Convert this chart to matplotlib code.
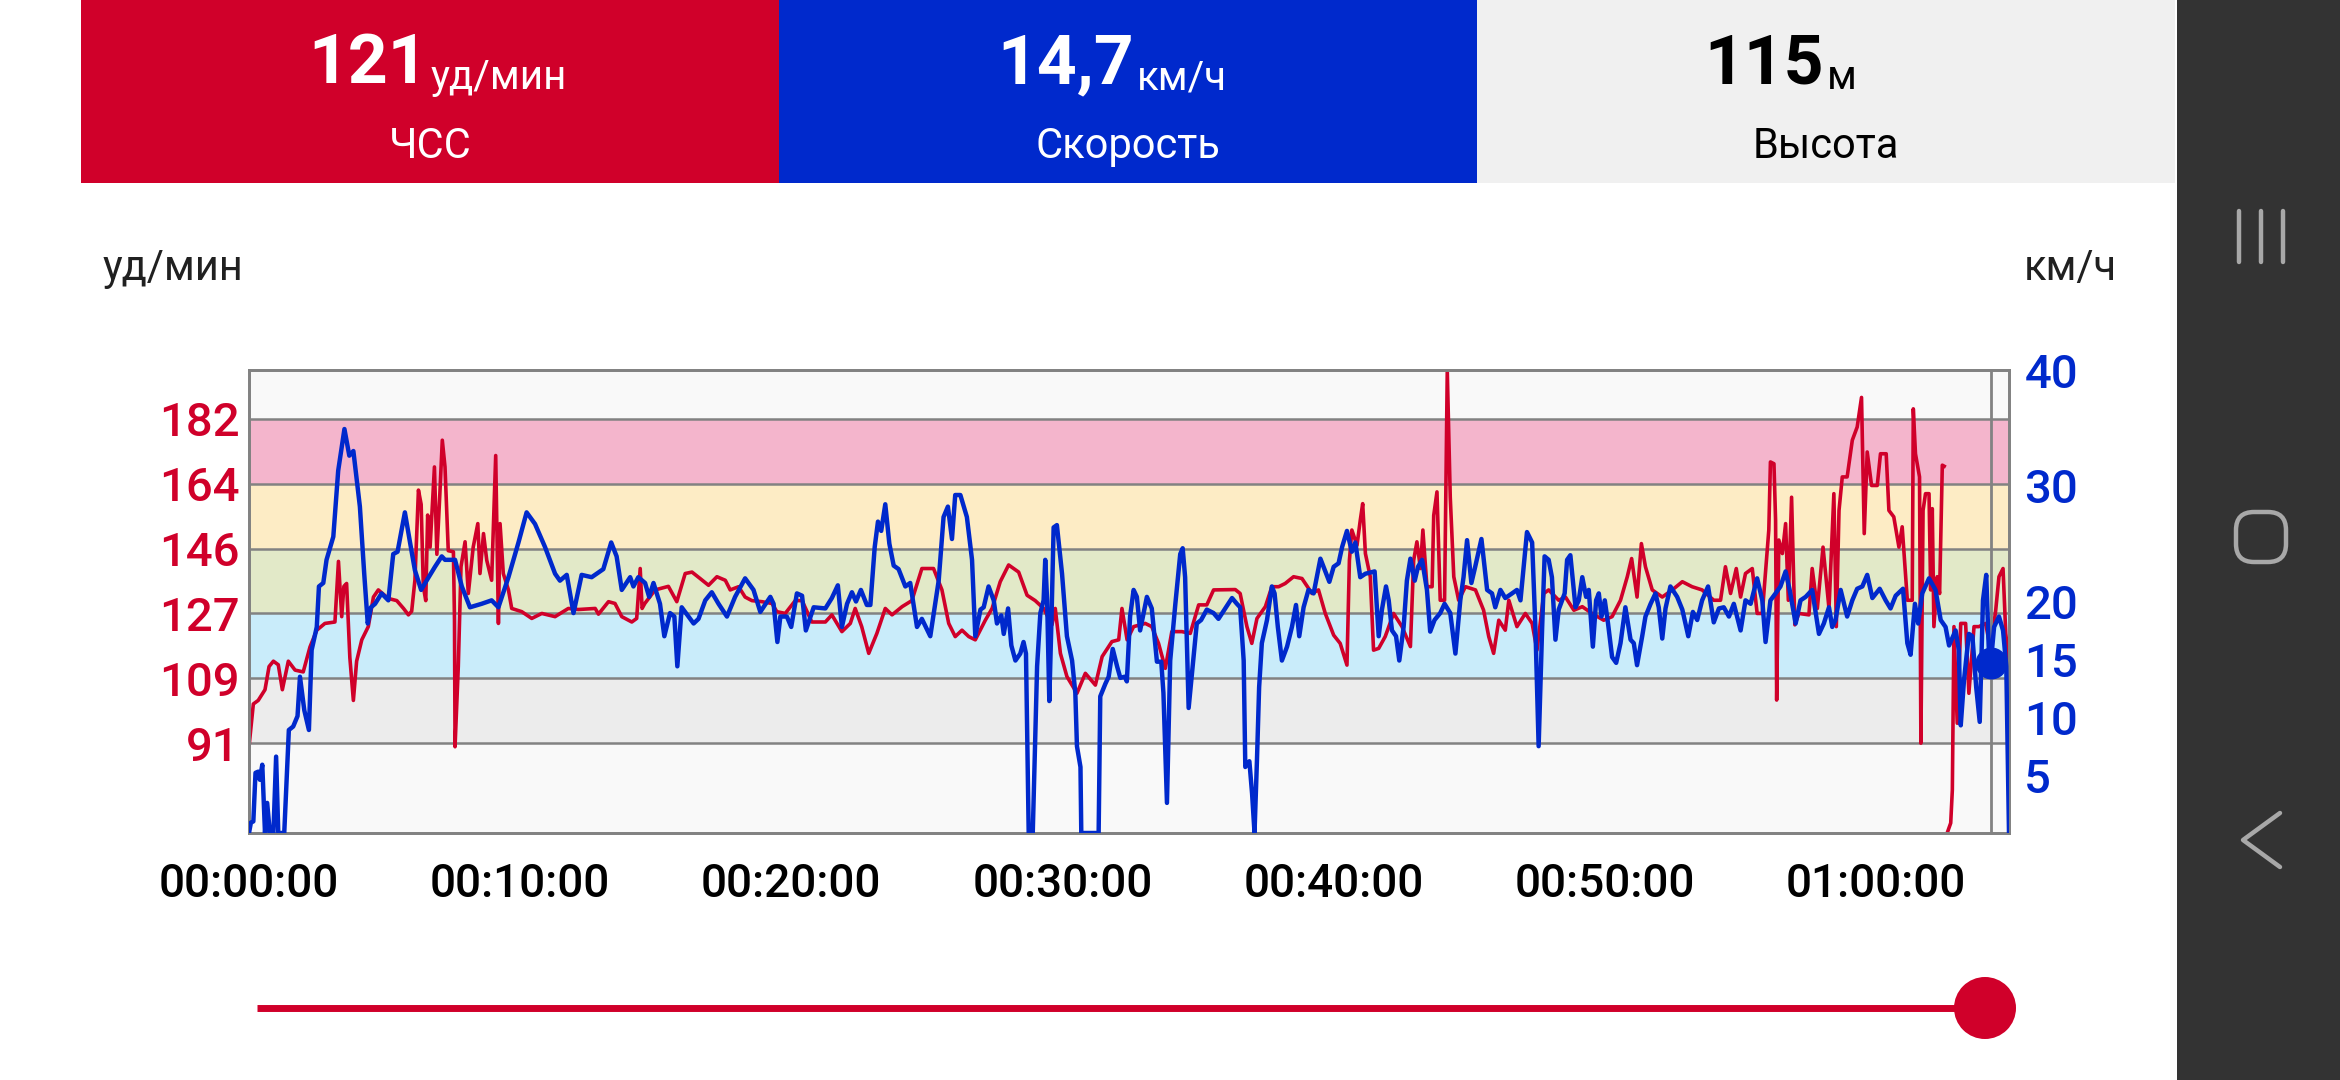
"""Heart rate and speed over a workout, redrawn from a phone screenshot."""

import numpy
from matplotlib import pyplot
from matplotlib.patches import Rectangle, Circle, FancyBboxPatch

# Heart rate (bpm) against time (min).
hr_min = [
    0, 0.16, 0.34, 0.59, 0.74, 0.9, 1.08, 1.23, 1.45, 1.7, 2.0, 2.25, 2.5,
    2.8, 3.17, 3.3, 3.42, 3.5, 3.6, 3.72, 3.85, 3.97, 4.16, 4.4, 4.59, 4.77,
    5.14, 5.45, 5.7, 5.88, 6.0, 6.12, 6.25, 6.35, 6.43, 6.52, 6.59, 6.68,
    6.84, 6.93, 7.04, 7.13, 7.23, 7.35, 7.54, 7.58, 7.6, 7.72, 7.82, 7.97,
    8.09, 8.27, 8.44, 8.52, 8.65, 8.77, 8.95, 9.1, 9.2, 9.26, 9.38, 9.57,
    9.69, 10.06, 10.43, 10.8, 11.29, 11.78, 12.15, 12.77, 12.89, 13.26, 13.5,
    13.75, 14.12, 14.3, 14.43, 14.5, 14.6, 14.98, 15.47, 15.78, 16.09, 16.34,
    16.64, 16.95, 17.26, 17.57, 17.75, 18.06, 18.3, 18.55, 18.92, 19.29,
    19.47, 19.78, 20.15, 20.4, 20.76, 21.26, 21.5, 21.87, 22.18, 22.36, 22.6,
    22.86, 23.16, 23.47, 23.72, 24.09, 24.45, 24.82, 25.25, 25.56, 25.81,
    26.05, 26.3, 26.55, 26.79, 27.16, 27.41, 27.71, 28.02, 28.39, 28.7, 29.0,
    29.31, 29.62, 29.74, 29.93, 30.17, 30.54, 30.85, 31.22, 31.47, 31.83,
    32.08, 32.2, 32.39, 32.63, 33.06, 33.3, 33.55, 33.8, 34.04, 34.41, 34.72,
    35.03, 35.33, 35.58, 36.38, 36.56, 36.81, 36.99, 37.18, 37.49, 37.73,
    37.98, 38.22, 38.53, 38.84, 39.21, 39.45, 39.7, 40.01, 40.25, 40.5,
    40.59, 40.68, 40.87, 40.99, 41.08, 41.18, 41.36, 41.48, 41.67, 41.91,
    42.22, 42.53, 42.84, 42.96, 43.08, 43.21, 43.3, 43.45, 43.64, 43.7,
    43.82, 43.94, 44.1, 44.2, 44.31, 44.44, 44.62, 44.87, 45.24, 45.54,
    45.73, 45.91, 46.1, 46.34, 46.47, 46.77, 47.08, 47.33, 47.51, 47.76,
    47.94, 48.31, 48.56, 48.87, 49.18, 49.54, 49.97, 50.28, 50.59, 50.84,
    51.0, 51.2, 51.36, 51.51, 51.76, 52.13, 52.5, 52.87, 53.23, 53.6, 54.03,
    54.28, 54.46, 54.65, 54.86, 55.02, 55.2, 55.45, 55.63, 55.82, 56.06,
    56.12, 56.25, 56.31, 56.35, 56.43, 56.56, 56.68, 56.78, 56.9, 57.02,
    57.17, 57.54, 57.66, 57.85, 58.06, 58.28, 58.46, 58.55, 58.65, 58.77,
    58.95, 59.14, 59.32, 59.48, 59.58, 59.69, 59.85, 60.06, 60.18, 60.39,
    60.49, 60.67, 60.86, 60.98, 61.17, 61.35, 61.39, 61.47, 61.62, 61.67,
    61.75, 61.84, 61.97, 62.03, 62.09, 62.15, 62.27, 62.36, 62.46, 62.53,
    62.58, 62.64, 62.77, 62.83, 62.89, 63.01, 63.14, 63.32, 63.44, 63.63,
    63.81, 64.06, 64.24, 64.43, 64.55, 64.7, 64.8, 64.92,
]
hr_bpm = [
    90, 102, 103, 106, 112.5, 114, 113, 106, 114, 111.5, 111, 118, 122.7,
    124.6, 125, 142, 126.5, 135, 135.8, 115, 103, 114, 120, 123.7, 132, 134,
    131.6, 131, 128.8, 127, 128, 136.7, 162, 158, 135, 131, 155, 146,
    168.5, 144, 161, 176, 168.5, 145, 144.7, 125.5, 90, 112.5, 140.5, 147.5,
    133, 146, 152.6, 138.6, 149.8, 142.3, 136.7, 171.7, 124.6, 152.6, 138.6,
    134, 128.8, 127.9, 126, 127.4, 126.5, 128.8, 128.5, 128.8, 127.2, 130.7,
    130.2, 126.5, 125, 126, 140, 128.8, 130.2, 134, 135, 130.7, 138.6, 139,
    137.2, 135.3, 137.7, 136.7, 134, 134.9, 132, 131, 130.7, 130.2, 127.9,
    127.4, 131, 131, 125, 125, 127, 122.3, 124.6, 128.8, 123.7, 116.2,
    121.8, 128.8, 127, 129.3, 131, 140, 140, 134, 124.6, 120.9, 122.7, 120.9,
    120, 125.5, 128.8, 136.3, 141, 139, 132.5, 131, 128.8, 124.2, 128.8,
    116.2, 109.7, 105, 110.6, 107.3, 115.3, 119.5, 120, 128.8, 120, 123.7,
    124.6, 123.7, 119, 112, 122.3, 122.3, 121.8, 129.8, 129.8, 134, 134.1,
    133, 123.7, 119, 126, 129.3, 134.9, 134.9, 135.8, 137.7, 137.2, 133, 134,
    127.4, 121.3, 119, 112.9, 142.3, 150.8, 146.5, 153.5, 158.2, 144.2,
    137.7, 117.1, 117.6, 120.9, 127.4, 123.7, 118.1, 142.3, 147.5, 140,
    150.8, 134.9, 134.9, 154.9, 161.5, 131.1, 131.1, 195.5, 160, 137.7,
    131.1, 134.9, 134, 128.3, 120.9, 116.2, 125.5, 122.7, 131.1, 123.7,
    127.4, 124.6, 117.1, 133, 134, 131.1, 132, 128.3, 129.3, 127.4, 125.5,
    126.5, 131.1, 137.7, 142.8, 132, 147, 140.5, 134, 132, 134, 136.3, 134.9,
    134, 131.1, 131.1, 140.5, 133, 140, 132, 138.6, 140, 127.4, 127.4, 150.8,
    169.9, 169.4, 153.5, 103.1, 148, 144.2, 152.6, 131.1, 160, 124.2, 127.4,
    127, 140, 128.8, 146, 128.8, 161, 123.7, 156.3, 165.7, 165.7, 176, 179.7,
    188, 149.8, 172.7, 163.3, 163.3, 172.2, 172.2, 156.3, 154.5, 146, 151.7,
    131.1, 131.1, 184.8, 172.2, 165.7, 91, 156.3, 161, 161, 134, 156.8,
    123.7, 137.7, 133, 169, 168.7, numpy.nan, 65.8, 68.6, 77.9, 123.7, 96.6,
    124.6, 124.6, 105, 123.7, 123.7, 124.6, 117.1, 128.3, 137.7, 140, 121.8,
    113.4,
]

# Speed (km/h) against time (min).
speed_min = [
    0, 0.07, 0.16, 0.24, 0.34, 0.4, 0.49, 0.59, 0.67, 0.77, 0.9, 1.0, 1.08,
    1.3, 1.47, 1.63, 1.79, 1.88, 2.04, 2.21, 2.31, 2.5, 2.58, 2.74, 2.86,
    3.11, 3.29, 3.52, 3.7, 3.85, 4.09, 4.25, 4.38, 4.5, 4.65, 4.89, 5.14,
    5.32, 5.48, 5.75, 5.94, 6.12, 6.35, 6.55, 6.86, 7.11, 7.23, 7.6, 7.85,
    8.15, 8.58, 8.95, 9.2, 9.57, 9.94, 10.24, 10.55, 10.92, 11.29, 11.47,
    11.72, 11.97, 12.27, 12.64, 13.07, 13.36, 13.56, 13.75, 14.06, 14.18,
    14.36, 14.61, 14.76, 14.92, 15.16, 15.32, 15.53, 15.69, 15.8, 15.96,
    16.21, 16.4, 16.58, 16.83, 17.07, 17.32, 17.63, 17.93, 18.3, 18.61,
    18.86, 19.23, 19.35, 19.49, 19.6, 19.84, 20.0, 20.21, 20.4, 20.54, 20.83,
    21.26, 21.5, 21.72, 21.87, 22.06, 22.24, 22.39, 22.57, 22.79, 22.92,
    23.08, 23.2, 23.32, 23.47, 23.62, 23.78, 23.96, 24.21, 24.39, 24.64,
    24.82, 25.13, 25.44, 25.62, 25.78, 25.93, 26.05, 26.24, 26.48, 26.67,
    26.79, 26.98, 27.1, 27.28, 27.47, 27.59, 27.75, 27.84, 28.0, 28.12,
    28.27, 28.45, 28.57, 28.66, 28.76, 28.91, 29.07, 29.19, 29.31, 29.37,
    29.44, 29.52, 29.6, 29.68, 29.8, 29.99, 30.17, 30.36, 30.48, 30.54,
    30.67, 30.7, 31.34, 31.4, 31.59, 31.71, 31.86, 32.02, 32.14, 32.3, 32.38,
    32.5, 32.63, 32.75, 32.87, 33.12, 33.3, 33.49, 33.65, 33.73, 33.86,
    33.98, 34.17, 34.35, 34.44, 34.53, 34.66, 34.84, 34.96, 35.12, 35.33,
    35.58, 35.76, 36.01, 36.26, 36.44, 36.56, 36.69, 36.75, 36.9, 37.0,
    37.09, 37.18, 37.26, 37.36, 37.55, 37.73, 37.83, 37.95, 38.1, 38.29,
    38.47, 38.62, 38.74, 38.9, 39.08, 39.27, 39.52, 39.7, 39.85, 40.01,
    40.19, 40.32, 40.5, 40.68, 40.81, 40.99, 41.18, 41.52, 41.67, 41.79,
    41.94, 42.04, 42.16, 42.31, 42.43, 42.59, 42.71, 42.84, 43.0, 43.12,
    43.27, 43.45, 43.57, 43.73, 43.94, 44.1, 44.31, 44.5, 44.68, 44.8,
    44.93, 45.09, 45.23, 45.46, 45.67, 45.85, 45.97, 46.16, 46.34, 46.59,
    46.77, 46.9, 47.14, 47.33, 47.45, 47.57, 47.7, 47.79, 47.94, 48.06,
    48.19, 48.31, 48.53, 48.62, 48.74, 48.93, 49.05, 49.18, 49.32, 49.42,
    49.57, 49.69, 49.79, 49.89, 50.01, 50.13, 50.28, 50.43, 50.59, 50.77,
    50.96, 51.08, 51.2, 51.39, 51.51, 51.7, 51.88, 52.0, 52.13, 52.25,
    52.43, 52.68, 52.87, 53.09, 53.26, 53.42, 53.6, 53.82, 54.03, 54.22,
    54.4, 54.59, 54.77, 55.02, 55.2, 55.39, 55.63, 55.82, 55.94, 56.12,
    56.31, 56.49, 56.68, 56.83, 57.05, 57.23, 57.42, 57.66, 57.91, 58.09,
    58.28, 58.4, 58.52, 58.71, 58.95, 59.14, 59.32, 59.51, 59.69, 59.88,
    60.15, 60.37, 60.55, 60.74, 61.01, 61.17, 61.29, 61.45, 61.57, 61.72,
    61.97, 62.21, 62.4, 62.58, 62.71, 62.95, 63.07, 63.14, 63.26, 63.44,
    63.57, 63.71, 63.84, 63.96, 64.08, 64.18, 64.25, 64.37, 64.55, 64.7,
    64.82, 64.92,
]
speed_kmh = [
    0, 0.9, 1.0, 5.2, 5.3, 4.6, 5.9, 0, 2.6, 0, 0, 6.6, 0, 0, 8.9, 9.2,
    10.1, 13.5, 10.6, 8.9, 15.8, 17.8, 21.3, 21.6, 23.6, 25.6, 31.3, 34.9,
    32.6, 33, 28.2, 22.4, 18.1, 19.5, 19.8, 20.7, 20.1, 24.1, 24.3, 27.7,
    25.1, 22.7, 21, 21.8, 23, 23.9, 23.6, 23.6, 21.3, 19.5, 19.8, 20.1, 19.5,
    22.1, 25.1, 27.7, 26.7, 24.7, 22.4, 21.8, 22.3, 19, 22.3, 22.1, 22.8,
    25.1, 23.9, 21, 22.1, 21.3, 22.1, 21.6, 20.4, 21.6, 19.8, 17, 19, 18.7,
    14.4, 19.5, 18.7, 18.1, 18.5, 20.1, 20.8, 19.8, 18.7, 20.4, 22, 21, 19.1,
    20.4, 19.8, 16.5, 18.7, 18.7, 17.8, 20.7, 20.5, 17.5, 19.5, 19.4, 20.3,
    21.4, 17.8, 19.8, 20.8, 20, 21, 19.7, 19.7, 24.7, 26.9, 26.1, 28.4, 25,
    23.1, 22.8, 21.3, 21.6, 17.8, 18.5, 17, 21.8, 27.3, 28.2, 25.4, 29.2,
    29.2, 27.3, 23.6, 17, 19.3, 19.5, 21.3, 20.1, 18.1, 18.8, 17.2, 19.4,
    16.2, 14.9, 15.5, 16.5, 15.5, 0, 0, 14.4, 19, 20.1, 23.6, 20.1, 11.4,
    18.4, 26.4, 26.6, 22.4, 17, 14.9, 12.1, 7.5, 5.7, 0, 0, 11.8, 12.9, 13.5,
    15.9, 14.4, 13.4, 13.5, 13.1, 18.7, 21, 20.4, 17.5, 20.4, 19.4, 14.8,
    14.8, 12.1, 2.6, 14.9, 19.8, 24.1, 24.6, 22.1, 10.8, 15.2, 18.1, 18.4,
    19.3, 19, 18.5, 19.4, 20.3, 19.8, 19.5, 14.9, 5.7, 6.2, 3.4, 0, 6.3,
    12.6, 16.4, 18.4, 21.3, 20.7, 17.8, 14.9, 16.1, 17.8, 19.7, 17, 19.5, 21,
    20.7, 23.7, 22.6, 21.7, 23, 23.3, 24.7, 26.1, 24.3, 25.1, 22.1, 22.4,
    22.6, 17, 19.3, 21.3, 20.1, 17.5, 17, 14.9, 17.8, 21.8, 23.7, 21.8, 23,
    23.6, 21, 17.4, 18.4, 19, 19.8, 19, 15.5, 20.1, 22.1, 25.3, 21.6, 23,
    25.4, 21, 20.7, 19.5, 21, 20.3, 20.7, 21, 20.1, 26, 25.1, 17.8, 7.5,
    17.8, 23.9, 23.6, 22.1, 16.7, 19.3, 20.7, 23.6, 24, 19.5, 20.1, 22.1,
    20.4, 21, 16.1, 20.1, 20.7, 18.7, 20.1, 18.1, 15.2, 14.7, 16.4, 19.5,
    16.7, 16.4, 14.5, 17, 18.7, 19.8, 20.7, 19.5, 16.8, 19.4, 21.3, 20.4,
    19.3, 17, 19.1, 18.4, 20.1, 21.3, 18.2, 19.4, 19.5, 18.7, 19.8, 17.5,
    20.1, 19.8, 22, 20.1, 16.5, 20.1, 20.7, 21.3, 22.6, 21, 18.1, 20.1, 20.4,
    21, 17.2, 18.1, 19.5, 17.8, 18.4, 21, 18.7, 20.1, 21.1, 21.3, 22.3, 20.3,
    21.1, 20.1, 19.4, 20.5, 21.1, 16.4, 15.4, 19.8, 18.1, 20.7, 22, 21, 18.4,
    17.8, 16.2, 17.5, 15.8, 9.3, 13.2, 17.2, 17, 12.6, 9.6, 20.1, 22.3,
    15.5, 14.7, 17.8, 18.7, 17.5, 14.4, 0,
]

# Heart-rate zone bounds and the right-hand speed ticks.
zone_bounds = [91, 109.2, 127.4, 145.6, 163.8, 182]
zone_colors = ['#ececec', '#c9ecfa', '#e2e9c8', '#fdecc5', '#f4b5cc']
speed_ticks = [5, 10, 15, 20, 30, 40]
time_ticks = [0, 10, 20, 30, 40, 50, 60]
time_labels = ['00:00:00', '00:10:00', '00:20:00', '00:30:00',
               '00:40:00', '00:50:00', '01:00:00']

# Readout at the cursor position.
cursor_min = 64.25
cursor_speed = 14.7
tiles = [('121', 'уд/мин', 'ЧСС'), ('14,7', 'км/ч', 'Скорость'),
         ('115', 'м', 'Высота')]

RED = '#d0002a'
BLUE = '#0029cc'
GRID = '#828282'

pyplot.rcParams['font.family'] = ['Roboto', 'DejaVu Sans']

fig = pyplot.figure(figsize=(23.4, 10.8), dpi=100)
fig.patch.set_facecolor('white')

# Background layer in pixel units (y grows downward).
bg = fig.add_axes([0, 0, 1, 1])
bg.set_xlim(0, 2340)
bg.set_ylim(1080, 0)
bg.axis('off')

tile_x = [81, 779, 1477]
tile_colors = [RED, BLUE, '#f0f0f0']
text_colors = ['white', 'white', 'black']
number_end = [428, 1134, 1824]
for i, (value, unit, name) in enumerate(tiles):
    bg.add_patch(Rectangle((tile_x[i], 0), 698, 183,
                           facecolor=tile_colors[i], edgecolor='none'))
    bg.text(number_end[i], 83, value, ha='right', va='baseline',
            fontsize=50, fontweight='bold', color=text_colors[i])
    bg.text(number_end[i] + 3, 89, unit, ha='left', va='baseline',
            fontsize=29, color=text_colors[i])
    bg.text(tile_x[i] + 349, 158, name, ha='center', va='baseline',
            fontsize=30, color=text_colors[i])

# Android navigation bar.
bg.add_patch(Rectangle((2177, 0), 163, 1080, facecolor='#333333',
                       edgecolor='none'))
for x in (2239, 2261, 2283):
    bg.plot([x, x], [211, 262], color='#a8a8a8', lw=3.2,
            solid_capstyle='round')
bg.add_patch(FancyBboxPatch((2236, 512), 50, 50,
                            boxstyle='round,pad=0,rounding_size=18',
                            facecolor='none', edgecolor='#a8a8a8', lw=3.2))
bg.plot([2280, 2243, 2280], [813, 840, 867], color='#a8a8a8', lw=3.2,
        solid_capstyle='round', solid_joinstyle='round')

# Axis unit captions.
bg.text(103, 280, 'уд/мин', ha='left', va='baseline', fontsize=30,
        color='#202020')
bg.text(2024, 280, 'км/ч', ha='left', va='baseline', fontsize=30,
        color='#202020')

# Time slider.
bg.plot([257, 1985], [1008, 1008], color=RED, lw=5, solid_capstyle='butt')
bg.add_patch(Circle((1985, 1008), 31, facecolor=RED, edgecolor='none'))

# Chart.
ax = fig.add_axes([249 / 2340, (1080 - 833) / 1080, 1760 / 2340, 463 / 1080])
ax.set_facecolor('#f9f9f9')
ax.set_xlim(0, 64.92)
ax.set_ylim(65.8, 195.7)
for lo, hi, c in zip(zone_bounds[:-1], zone_bounds[1:], zone_colors):
    ax.axhspan(lo, hi, color=c, lw=0, zorder=0)
for b in zone_bounds:
    ax.axhline(b, color=GRID, lw=1.8, zorder=1)
ax.plot(hr_min, hr_bpm, color=RED, lw=2.6, zorder=2)
ax.set_yticks(zone_bounds)
ax.set_yticklabels([f'{b:.0f}' for b in zone_bounds])
ax.set_xticks(time_ticks)
ax.set_xticklabels(time_labels)
ax.tick_params(axis='y', length=0, pad=7, labelsize=34, labelcolor=RED)
ax.tick_params(axis='x', length=0, pad=21, labelsize=33,
               labelcolor='black')
for lbl in ax.get_xticklabels() + ax.get_yticklabels():
    lbl.set_fontweight('medium')
for spine in ax.spines.values():
    spine.set_color(GRID)
    spine.set_linewidth(2.0)

ax2 = ax.twinx()
ax2.set_ylim(0, 40)
ax2.plot(speed_min, speed_kmh, color=BLUE, lw=3.2, zorder=3)
ax2.axvline(cursor_min, color=GRID, lw=2.0, zorder=2)
ax2.plot([cursor_min], [cursor_speed], 'o', color=BLUE, markersize=22,
         zorder=4)
ax2.set_yticks(speed_ticks)
ax2.tick_params(axis='y', length=0, pad=11, labelsize=34, labelcolor=BLUE)
for lbl in ax2.get_yticklabels():
    lbl.set_fontweight('medium')
for spine in ax2.spines.values():
    spine.set_color(GRID)
    spine.set_linewidth(2.0)

fig.savefig('out.png', dpi=100)
